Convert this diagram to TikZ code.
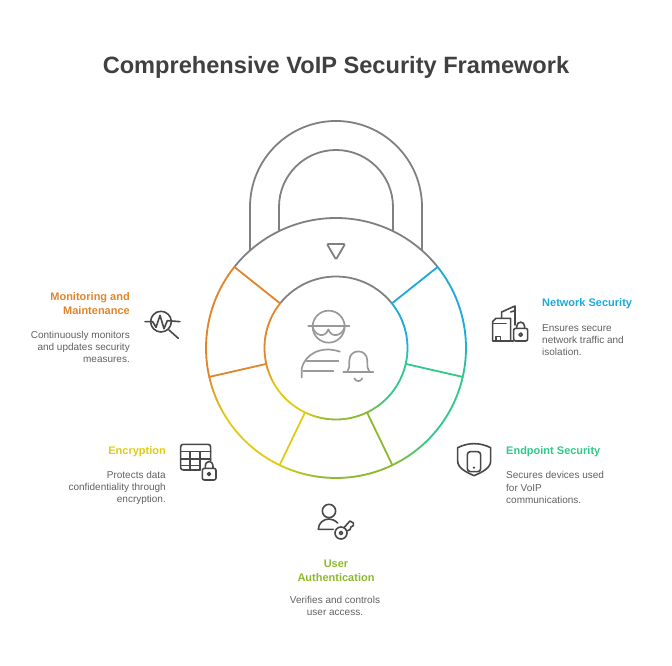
\documentclass[tikz,border=0pt]{standalone}
\usepackage{fontspec}
\setmainfont{Liberation Sans}
\usepackage{xcolor}
\usetikzlibrary{positioning}
\definecolor{lockgray}{HTML}{808080}
\definecolor{icongray}{HTML}{999999}
\definecolor{darkicon}{HTML}{484848}
\definecolor{titlegray}{HTML}{404040}
\definecolor{bodygray}{HTML}{606060}
\definecolor{netblue}{HTML}{1CA9DC}
\definecolor{endgreen}{HTML}{31C88C}
\definecolor{authlime}{HTML}{8DB92F}
\definecolor{encyellow}{HTML}{E0CC17}
\definecolor{monorange}{HTML}{E0852B}
\tikzset{
  ttl/.style={font=\bfseries\fontsize{23.6}{28}\selectfont,text=titlegray,inner sep=0},
  hd/.style={font=\bfseries\fontsize{11}{14}\selectfont,inner sep=0},
  txt/.style={font=\fontsize{10}{12.2}\selectfont,text=bodygray,inner sep=0},
  lockline/.style={draw=lockgray,line width=1.8pt},
  iconline/.style={draw=darkicon,line width=1.6pt,line cap=round,line join=round},
  midline/.style={draw=icongray,line width=1.7pt,line cap=round,line join=round},
  zoomed/.style 2 args={shift={(#1,#2)},x=0.3333pt,y=-0.3333pt}
}
\newcommand{\ringarc}[5]{%
  \foreach \t in {0,...,29} {
    \pgfmathsetmacro{\aa}{#1+(#2-#1)*\t/30}
    \pgfmathsetmacro{\ab}{#1+(#2-#1)*(\t+1.1)/30}
    \pgfmathsetmacro{\mx}{\t<18 ? 100 : 100*(30-\t)/12}
    \draw[line width=1.8pt,draw=#5!\mx!#4] (\aa:#3) arc (\aa:\ab:#3);
  }
}
\begin{document}
\begin{tikzpicture}[x=1pt,y=1pt]
    \useasboundingbox (0,0) rectangle (672,666);

    \node[ttl] (title) at (336,599) {Comprehensive VoIP Security Framework};

    % shackle
    \draw[lockline] (250,415.5) -- (250,459) .. controls (250,506.5) and (288.5,545) .. (336,545)
        .. controls (383.5,545) and (422,506.5) .. (422,459) -- (422,415.5);
    \draw[lockline] (279,434.8) -- (279,459) .. controls (279,490.5) and (304.5,516) .. (336,516)
        .. controls (367.5,516) and (393,490.5) .. (393,459) -- (393,434.8);
    \draw[lockline,rounded corners=1.2pt] (327,422) -- (345,422) -- (336,406.5) -- cycle;

    % ring
    \begin{scope}[shift={(336,318)}]
        \draw[lockline] (141.43:130) arc (141.43:38.57:130);
        \draw[lockline] (141.43:71.5) arc (141.43:38.57:71.5);
        \foreach \from/\to/\col/\nxt in {38.57/-12.86/netblue/endgreen,-12.86/-64.29/endgreen/authlime,
            -64.29/-115.71/authlime/encyellow,-115.71/-167.14/encyellow/monorange,-167.14/-218.57/monorange/monorange} {
            \ringarc{\from}{\to}{130}{\nxt}{\col}
            \ringarc{\from}{\to}{71.5}{\nxt}{\col}
            \draw[line width=1.8pt,draw=\col] (\from:71.5) -- (\from:130);
        }
        \draw[line width=1.8pt,draw=monorange] (141.43:71.5) -- (141.43:130);
    \end{scope}

    % middle icon
    \begin{scope}[zoomed={290}{366}]
        \draw[midline] (116,80) circle (48);
        \draw[midline] (55,77) -- (178,77);
        \draw[midline] (68,80) .. controls (72,105) and (105,118) .. (115,88)
            .. controls (125,118) and (160,105) .. (164,80);
        \draw[midline] (35,232) -- (35,205) .. controls (45,165) and (90,135) .. (150,155);
        \draw[midline] (50,183) -- (145,183);
        \draw[midline] (40,212) -- (130,212);
        \draw[midline] (160,215) -- (250,215);
        \draw[midline] (172,215) .. controls (178,208) and (178,200) .. (178,182)
            .. controls (178,145) and (232,145) .. (232,182) .. controls (232,200) and (232,208) .. (238,215);
        \draw[midline] (193,235) .. controls (197,246) and (213,246) .. (217,235);
    \end{scope}

    % network security
    \node[hd,text=netblue,anchor=west] (nethd) at (542,362) {Network Security};
    \node[txt,anchor=north west,align=left] (nettxt) at (542,341.5) {Ensures secure\\network traffic and\\isolation.};
    \begin{scope}[zoomed={480}{376}]
        \draw[iconline] (38,153) -- (38,95) -- (48,85) -- (92,85) -- (92,153) -- cycle;
        \draw[iconline] (38,100) -- (78,100);
        \draw[iconline] (48,153) -- (48,140) -- (62,140) -- (62,153);
        \draw[iconline] (65,85) -- (65,66) -- (105,48) -- (105,105);
        \draw[iconline] (92,66) -- (105,62);
        \draw[iconline] (92,153) -- (100,153);
        \draw[iconline,fill=white,rounded corners=2pt] (101,115) rectangle (143,153);
        \draw[iconline] (110,115) -- (110,110) .. controls (110,92) and (134,92) .. (134,110) -- (134,115);
        \draw[iconline] (122,134) circle (5);
    \end{scope}

    % endpoint security
    \node[hd,text=endgreen,anchor=west] (endhd) at (506,214) {Endpoint Security};
    \node[txt,anchor=north west,align=left] (endtxt) at (506,194.5) {Secures devices used\\for VoIP\\communications.};
    \begin{scope}[zoomed={450}{231}]
        \draw[iconline] (23,38) .. controls (40,30) and (55,26) .. (72,26) .. controls (90,26) and (105,30) .. (122,38)
            -- (122,78) .. controls (122,100) and (95,112) .. (72,122) .. controls (50,112) and (23,100) .. (23,78) -- cycle;
        \draw[iconline,rounded corners=3pt] (52,50) rectangle (92,110);
        \fill[darkicon] (72,98) circle (3.5);
    \end{scope}

    % user authentication
    \node[hd,text=authlime,align=center,anchor=north] (authhd) at (336,106) {User\\Authentication};
    \node[txt,anchor=north,align=center] (authtxt) at (335,70) {Verifies and controls\\user access.};
    \begin{scope}[zoomed={270}{171}]
        \draw[iconline] (177,48) circle (20);
        \draw[iconline] (190,103) -- (145,103) .. controls (145,85) and (160,72) .. (177,72) .. controls (185,72) and (195,76) .. (203,84);
        \draw[iconline] (213,114) circle (18);
        \draw[iconline] (213,114) circle (5);
        \draw[iconline] (222,98) -- (240,78) -- (250,84) -- (250,92) -- (243,96) -- (240,104) -- (230,108);
    \end{scope}

    % encryption
    \node[hd,text=encyellow,anchor=east] (enchd) at (166,214) {Encryption};
    \node[txt,anchor=north east,align=right] (enctxt) at (166,195) {Protects data\\confidentiality through\\encryption.};
    \begin{scope}[zoomed={50}{231}]
        \draw[iconline] (450,105) -- (400,105) .. controls (395,105) and (392,102) .. (392,98) -- (392,36)
            .. controls (392,31) and (395,28) .. (400,28) -- (474,28) .. controls (479,28) and (482,31) .. (482,36) -- (482,78);
        \draw[iconline] (392,50) -- (482,50);
        \draw[iconline] (392,72) -- (482,72);
        \draw[iconline] (392,92) -- (450,92);
        \draw[iconline] (420,50) -- (420,105);
        \draw[iconline] (450,50) -- (450,105);
        \draw[iconline,fill=white,rounded corners=2pt] (457,100) rectangle (498,135);
        \draw[iconline] (466,100) -- (466,95) .. controls (466,74) and (489,74) .. (489,95) -- (489,100);
        \draw[iconline] (477,117) circle (4.5);
    \end{scope}

    % monitoring and maintenance
    \node[hd,text=monorange,align=right,anchor=north east] (monhd) at (130,374) {Monitoring and\\Maintenance};
    \node[txt,anchor=north east,align=right] (montxt) at (130,335) {Continuously monitors\\and updates security\\measures.};
    \begin{scope}[zoomed={20}{386}]
        \draw[iconline] (423,125) circle (31);
        \draw[iconline] (375,125) -- (398,125) -- (408,142) -- (420,106) -- (432,146) -- (442,122) -- (480,125);
        \draw[iconline] (447,150) -- (475,175);
    \end{scope}
\end{tikzpicture}
\end{document}
